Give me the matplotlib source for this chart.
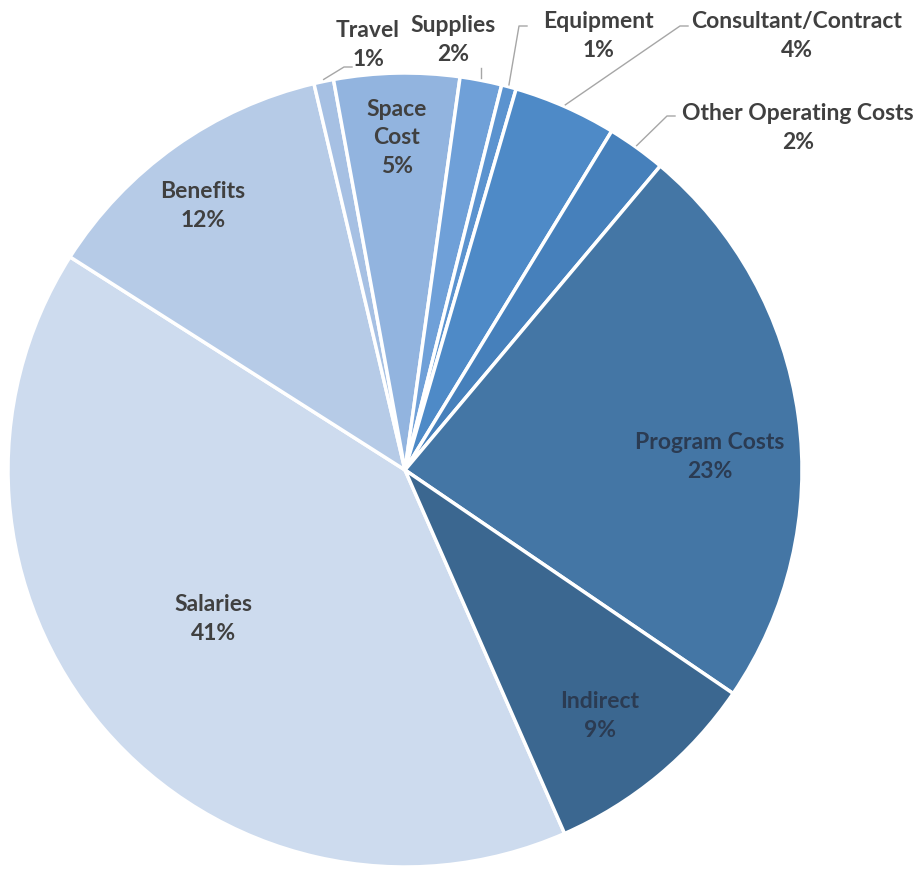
import numpy as np
import matplotlib
matplotlib.use("Agg")
import matplotlib.pyplot as plt

# 数据
labels = ["Salaries", "Benefits", "Travel", "Space\nCost", "Supplies", "Equipment",
          "Consultant/Contract", "Other Operating Costs", "Program Costs", "Indirect"]
values = [40.6, 12.3, 0.8, 5.1, 1.7, 0.6, 4.2, 2.4, 23.4, 8.9]
pct_labels = ["41%", "12%", "1%", "5%", "2%", "1%", "4%", "2%", "23%", "9%"]
colors = ["#CDDBEE", "#B6CBE7", "#A6C0E3", "#92B4DF", "#6FA0D8", "#5B93CF",
          "#4E8AC7", "#4680BB", "#4476A5", "#3B6790"]

plt.rcParams["font.family"] = ["Lato", "DejaVu Sans"]

W, H = 924, 871
fig = plt.figure(figsize=(W / 100, H / 100), dpi=100)
ax = fig.add_axes([0, 0, 1, 1])

cx, cy, R = 405, H - 470, 397
wedges, _ = ax.pie(values, colors=colors, startangle=-66.3, counterclock=False,
                   center=(cx, cy), radius=R, frame=True,
                   wedgeprops=dict(edgecolor="white", linewidth=2.5))
ax.set_xlim(0, W)
ax.set_ylim(0, H)
ax.set_aspect("equal")
ax.axis("off")

FS = 16.5
LS = 1.45

# 扇区内标签 (像素位置)
inside = {0: (213, 619), 1: (203, 206), 3: (397, 138), 8: (710, 457), 9: (600, 716)}
dark = {8, 9}
for i, (tx, ty) in inside.items():
    ax.text(tx, H - ty, f"{labels[i]}\n{pct_labels[i]}", ha="center", va="center",
            fontsize=FS, fontweight="bold", linespacing=LS,
            color="#2B3B52" if i in dark else "#404040")

# 扇区外标签 (像素位置) 和引线
outside = {2: (368, 45, 352), 4: (453, 40, None), 5: (598, 36, 527),
           6: (797, 36, 688), 7: (798, 128, 675)}
for i, (tx, ty, lx) in outside.items():
    w = wedges[i]
    mid = np.deg2rad((w.theta1 + w.theta2) / 2)
    ax_x = cx + R * np.cos(mid)
    ax_y = cy + R * np.sin(mid)
    ax.text(tx, H - ty, f"{labels[i]}\n{pct_labels[i]}", ha="center", va="center",
            fontsize=FS, fontweight="bold", linespacing=LS, color="#404040")
    if lx is None:
        ax.plot([ax_x, ax_x], [ax_y + 2, ax_y + 12], color="#A6A6A6", lw=1)
    else:
        if i == 2:
            ly = H - ty - 22
        elif i == 7:
            ly = H - ty + 12
        else:
            ly = H - ty + 10
        ax.plot([ax_x, lx - 8, lx], [ax_y + 2, ly, ly], color="#A6A6A6", lw=1)

fig.savefig("out.png", dpi=100)
